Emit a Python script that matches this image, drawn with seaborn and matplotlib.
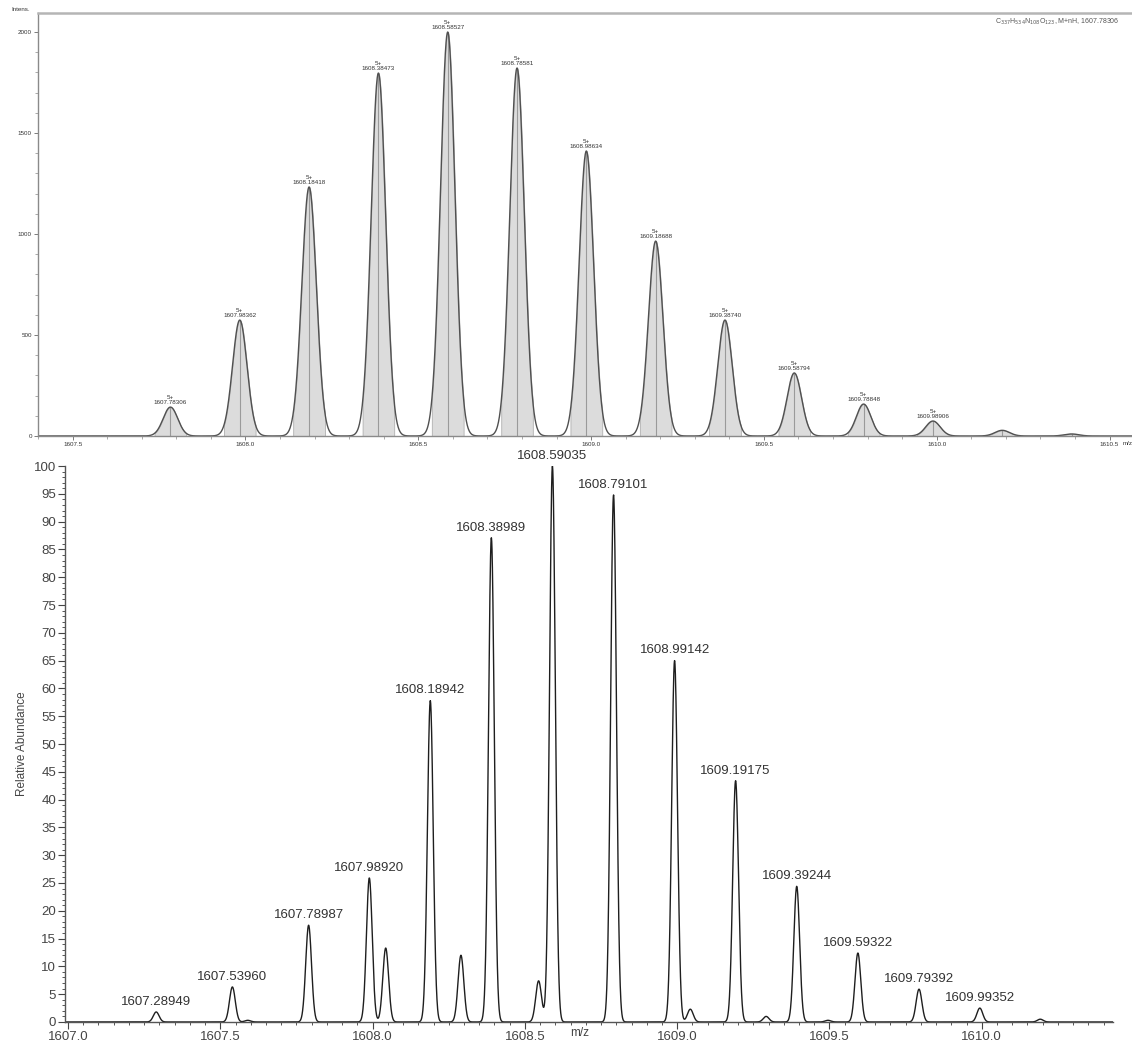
import numpy as np
import pandas as pd
import matplotlib
matplotlib.use("Agg")
import matplotlib.pyplot as plt
import seaborn as sns
from matplotlib.ticker import MultipleLocator, FormatStrFormatter

sns.set_style("ticks")
plt.rcParams["font.family"] = ["Liberation Sans", "DejaVu Sans"]

# ---- theoretical isotope pattern, charge 5+ ----
theo_mz = [1607.78306, 1607.98362, 1608.18418, 1608.38473, 1608.58527, 1608.78581,
           1608.98634, 1609.18688, 1609.38740, 1609.58794, 1609.78848, 1609.98906,
           1610.18960, 1610.39010]
theo_int = [143, 574, 1233, 1797, 2000, 1822, 1411, 965, 574, 312, 158, 74, 28, 10]
theo_labeled = 12          # first twelve peaks carry a label
theo_charge = "5+"
formula = r"C$_{337}$H$_{534}$N$_{108}$O$_{123}$, M+nH, 1607.78306"

# ---- measured spectrum ----
meas_mz = [1607.28949, 1607.53960, 1607.59000, 1607.78987, 1607.98920, 1608.04300,
           1608.18942, 1608.29000, 1608.38989, 1608.54500, 1608.59035, 1608.79101,
           1608.99142, 1609.04300, 1609.19175, 1609.29200, 1609.39244, 1609.49500,
           1609.59322, 1609.79392, 1609.99352, 1610.19200]
meas_rel = [1.8, 6.3, 0.3, 17.4, 25.9, 13.3,
            57.8, 12.0, 87.1, 7.4, 100.0, 94.8,
            65.0, 2.3, 43.4, 1.0, 24.4, 0.3,
            12.4, 5.9, 2.5, 0.5]
meas_labels = [1607.28949, 1607.53960, 1607.78987, 1607.98920, 1608.18942, 1608.38989,
               1608.59035, 1608.79101, 1608.99142, 1609.19175, 1609.39244, 1609.59322,
               1609.79392, 1609.99352]


def profile(grid, centers, heights, sigma):
    y = np.zeros_like(grid)
    for c, h in zip(centers, heights):
        y += h * np.exp(-0.5 * ((grid - c) / sigma) ** 2)
    return y


fig = plt.figure(figsize=(11.32, 10.44), dpi=100)

# ================= upper panel: simulated pattern =================
ax1 = fig.add_axes([0.0336, 0.5824, 0.9664, 0.4051])
x1 = np.linspace(1607.40, 1610.57, 6000)
sig1 = 0.021
y1 = profile(x1, theo_mz, theo_int, sig1)
df1 = pd.DataFrame({"mz": x1, "intensity": y1})

for c, h in zip(theo_mz, theo_int):
    m = np.abs(x1 - c) <= 0.046
    ax1.fill_between(x1[m], 0, y1[m], facecolor="#dcdcdc", edgecolor="#b0b0b0", lw=0.6)
    ax1.plot([c, c], [0, h], color="#9a9a9a", lw=0.8)
sns.lineplot(data=df1, x="mz", y="intensity", ax=ax1, color="#505050", lw=1.0,
             estimator=None, sort=False)

for c, h in list(zip(theo_mz, theo_int))[:theo_labeled]:
    ax1.annotate(f"{theo_charge}\n{c:.5f}", xy=(c, h), xytext=(0, 1.5),
                 textcoords="offset points", ha="center", va="bottom",
                 fontsize=4.5, color="#333333", linespacing=1.0)

ax1.set_xlim(1607.40, 1610.565)
ax1.set_ylim(0, 2094)
ax1.xaxis.set_major_locator(MultipleLocator(0.5))
ax1.xaxis.set_minor_locator(MultipleLocator(0.1))
ax1.xaxis.set_major_formatter(FormatStrFormatter("%.1f"))
ax1.yaxis.set_major_locator(MultipleLocator(500))
ax1.yaxis.set_minor_locator(MultipleLocator(100))
ax1.tick_params(axis="both", which="major", labelsize=4.5, length=3, width=0.6,
                color="#666666", labelcolor="#333333", pad=1.5)
ax1.tick_params(axis="both", which="minor", length=2, width=0.5, color="#888888")
ax1.set_xlabel("")
ax1.set_ylabel("")
for s in ["left", "bottom"]:
    ax1.spines[s].set_color("#8a8a8a")
    ax1.spines[s].set_linewidth(1.0)
ax1.spines["top"].set_visible(True)
ax1.spines["top"].set_color("#b5b5b5")
ax1.spines["top"].set_linewidth(1.8)
ax1.spines["right"].set_visible(False)

fig.text(0.010, 0.9885, "Intens.", fontsize=4.5, color="#333333", ha="left", va="bottom")
fig.text(0.879, 0.9795, formula, fontsize=5.0, color="#555555",
         ha="left", va="center")
fig.text(0.9915, 0.578, "m/z", fontsize=4.5, color="#333333", ha="left", va="top")

# ================= lower panel: measured spectrum =================
ax2 = fig.add_axes([0.0574, 0.0211, 0.9256, 0.5325])
x2 = np.linspace(1606.99, 1610.43, 8000)
y2 = profile(x2, meas_mz, meas_rel, 0.0095)
df2 = pd.DataFrame({"mz": x2, "rel": y2})
sns.lineplot(data=df2, x="mz", y="rel", ax=ax2, color="#1e1e1e", lw=1.0,
             estimator=None, sort=False)

for lab in meas_labels:
    h = meas_rel[meas_mz.index(lab)]
    ax2.annotate(f"{lab:.5f}", xy=(lab, h), xytext=(0, 3),
                 textcoords="offset points", ha="center", va="bottom",
                 fontsize=9.5, color="#333333", annotation_clip=False)

ax2.set_xlim(1606.99, 1610.43)
ax2.set_ylim(0, 100)
ax2.xaxis.set_major_locator(MultipleLocator(0.5))
ax2.xaxis.set_minor_locator(MultipleLocator(0.05))
ax2.xaxis.set_major_formatter(FormatStrFormatter("%.1f"))
ax2.yaxis.set_major_locator(MultipleLocator(5))
ax2.yaxis.set_minor_locator(MultipleLocator(1))
ax2.tick_params(axis="both", which="major", labelsize=9.5, length=5, width=0.8,
                color="#444444", labelcolor="#444444", pad=1.5)
ax2.tick_params(axis="both", which="minor", length=2.5, width=0.7, color="#555555")
ax2.set_xlabel("")
ax2.set_ylabel("Relative Abundance", fontsize=8.5, color="#444444", labelpad=4)
fig.text(0.5125, 0.0045, "m/z", fontsize=8.5, color="#444444", ha="center", va="bottom")
sns.despine(ax=ax2)
for s in ["left", "bottom"]:
    ax2.spines[s].set_color("#555555")
    ax2.spines[s].set_linewidth(1.0)

fig.savefig("out.png", dpi=100)
